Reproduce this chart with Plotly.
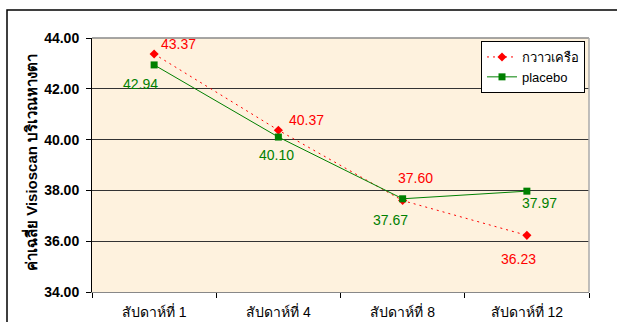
import plotly.graph_objects as go

categories = ["สัปดาห์ที่ 1", "สัปดาห์ที่ 4", "สัปดาห์ที่ 8", "สัปดาห์ที่ 12"]
series_a_name = "กวาวเครือ"
series_a = [43.37, 40.37, 37.60, 36.23]
series_b_name = "placebo"
series_b = [42.94, 40.10, 37.67, 37.97]
y_ticks = [34, 36, 38, 40, 42, 44]
y_title = "ค่าเฉลี่ย Visioscan บริเวณหางตา"

# label pixel offsets (dx, dy) relative to the points
a_offsets = [(24, -10), (28, -10), (13, -23), (-8, 24)]
b_offsets = [(-14, 19), (-2, 18), (-12, 21), (13, 12)]

RED = "#FF0000"
GREEN = "#008000"
FONT = "Liberation Sans, Arial, sans-serif"

L, R, T, B = 92, 28, 38, 30
PW, PH = 617 - L - R, 322 - T - B

def px(x):
    return (x - L) / PW

def py(y):
    return (322 - B - y) / PH

fig = go.Figure()
fig.add_trace(go.Scatter(
    x=categories, y=series_a, name=series_a_name, mode="lines+markers",
    line=dict(color=RED, width=1, dash="2px,4px"),
    marker=dict(symbol="diamond", size=7, color=RED),
))
fig.add_trace(go.Scatter(
    x=categories, y=series_b, name=series_b_name, mode="lines+markers",
    line=dict(color=GREEN, width=1),
    marker=dict(symbol="square", size=7, color=GREEN),
))

for cat, v, (dx, dy) in zip(categories, series_a, a_offsets):
    fig.add_annotation(x=cat, y=v, text=f"{v:.2f}", showarrow=False,
                       xshift=dx, yshift=-dy, font=dict(color=RED, size=14, family=FONT))
for cat, v, (dx, dy) in zip(categories, series_b, b_offsets):
    fig.add_annotation(x=cat, y=v, text=f"{v:.2f}", showarrow=False,
                       xshift=dx, yshift=-dy, font=dict(color=GREEN, size=14, family=FONT))

# y-axis title
fig.add_annotation(xref="paper", yref="paper", x=px(30), y=py(163), text=y_title,
                   textangle=-90, showarrow=False, xanchor="center", yanchor="middle",
                   font=dict(size=15, family=FONT, weight="bold", color="black"))

# outer chart frame
fig.add_shape(type="rect", xref="paper", yref="paper",
              x0=px(7), x1=px(640), y0=py(340), y1=py(10),
              line=dict(color="black", width=1.5), fillcolor="rgba(0,0,0,0)", layer="below")

fig.update_layout(
    width=617, height=322,
    margin=dict(l=L, r=R, t=T, b=B, autoexpand=False),
    paper_bgcolor="white",
    plot_bgcolor="#FEF2DE",
    font=dict(family=FONT, color="black"),
    showlegend=True,
    legend=dict(x=px(481), y=py(41), xanchor="left", yanchor="top",
                bgcolor="white", bordercolor="black", borderwidth=1,
                font=dict(size=13, family=FONT), tracegroupgap=0,
                itemwidth=30),
    xaxis=dict(type="category", range=[-0.5, 3.5], showgrid=False, automargin=False,
               showline=True, linecolor="#888888", linewidth=1, mirror=False,
               ticks="outside", ticklen=5, tickcolor="black",
               tickson="boundaries", ticklabelstandoff=7,
               tickfont=dict(size=14, family=FONT)),
    yaxis=dict(range=[34, 44], tickvals=y_ticks, automargin=False,
               ticktext=[f"{t:.2f}" for t in y_ticks],
               showgrid=True, gridcolor="#333333", gridwidth=1,
               showline=True, linecolor="black", linewidth=1,
               ticks="outside", ticklen=5, tickcolor="black",
               ticklabelstandoff=4,
               tickfont=dict(size=14, family=FONT, weight="bold"),
               zeroline=False),
)

# top and right plot borders (gray)
fig.add_shape(type="line", xref="paper", yref="paper", x0=0, x1=1, y0=1, y1=1,
              line=dict(color="#888888", width=1.5))
fig.add_shape(type="line", xref="paper", yref="paper", x0=1, x1=1, y0=0, y1=1,
              line=dict(color="#AAAAAA", width=1.5))

fig.write_html("out.html", config={"displayModeBar": False},
               post_script="document.body.style.margin='0';")
